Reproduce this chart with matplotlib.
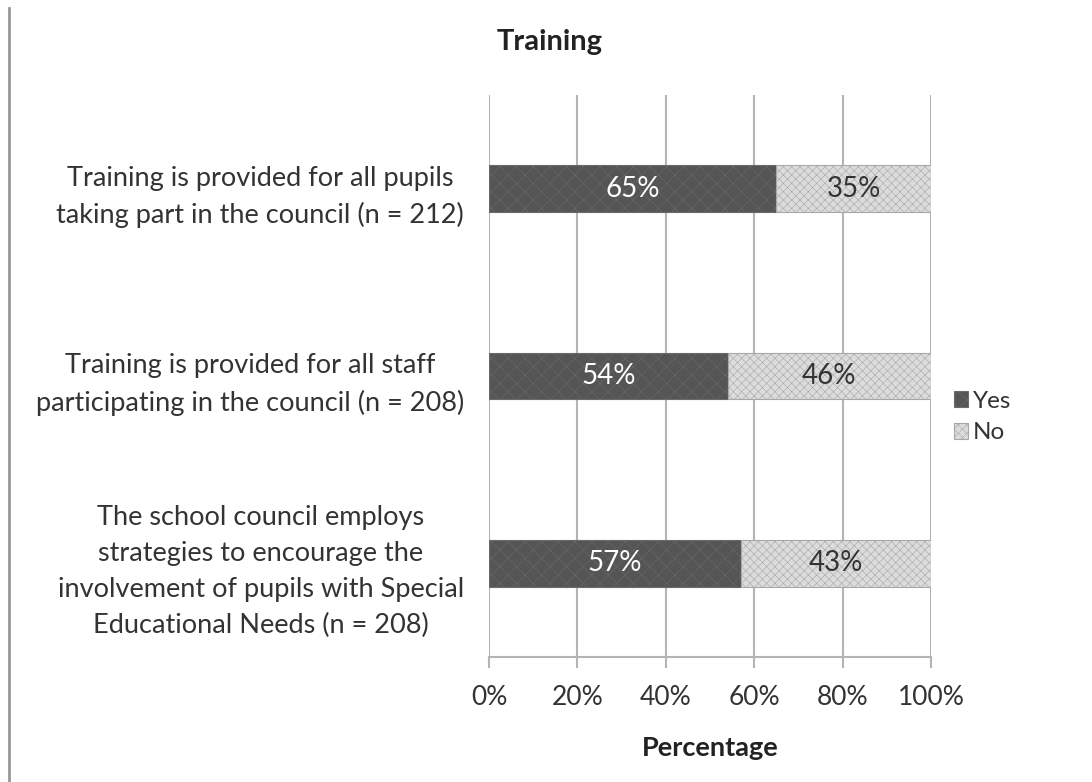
import matplotlib.pyplot as plt
from matplotlib.lines import Line2D

plt.rcParams['font.family'] = ['Lato', 'DejaVu Sans']
plt.rcParams['hatch.linewidth'] = 0.4

# Survey data (percent)
questions = [
    'Training is provided for all pupils\ntaking part in the council (n = 212)',
    'Training is provided for all staff\nparticipating in the council (n = 208)',
    'The school council employs\nstrategies to encourage the\ninvolvement of pupils with Special\nEducational Needs (n = 208)',
]
yes_vals = [65, 54, 57]
no_vals = [35, 46, 43]
ticks = [0, 20, 40, 60, 80, 100]

fig = plt.figure(figsize=(10.92, 7.82), dpi=100)
ax = fig.add_axes([0.4478, 0.160, 0.4048, 0.7185])

ypos = [2, 1, 0]
grid_col = '#b4b4b4'
ax.barh(ypos, yes_vals, height=0.25, color='#555555', edgecolor='#6a6a6a',
        hatch='xx', linewidth=0.8, label='Yes', zorder=3)
ax.barh(ypos, no_vals, left=yes_vals, height=0.25, color='#dcdcdc',
        edgecolor='#a8a8a8', hatch='xxxx', linewidth=0.8, label='No', zorder=3)

for y, yv, nv in zip(ypos, yes_vals, no_vals):
    ax.text(yv / 2, y, f'{yv}%', ha='center', va='center', color='white',
            fontsize=20, zorder=4)
    ax.text(yv + nv / 2, y, f'{nv}%', ha='center', va='center', color='#333333',
            fontsize=20, zorder=4)

ax.set_xlim(0, 100)
ax.set_ylim(-0.5, 2.5)
ax.set_xticks(ticks)
ax.set_xticklabels([f'{t}%' for t in ticks], fontsize=19, color='#333333')
ax.set_yticks(ypos)
ax.set_yticklabels(questions, fontsize=19.5, color='#333333',
                   multialignment='center', linespacing=1.55)
ax.tick_params(axis='y', length=0, pad=18)
ax.tick_params(axis='x', length=8, color=grid_col, width=1.5, pad=12)
ax.grid(axis='x', color=grid_col, linewidth=1.5, zorder=0)
for s in ['top', 'right', 'left']:
    ax.spines[s].set_visible(False)
ax.spines['bottom'].set_color(grid_col)
ax.spines['bottom'].set_linewidth(1.5)
ax.set_xlabel('Percentage', fontsize=19.5, fontweight='bold', color='#222222', labelpad=19)

fig.text(550 / 1092, 1 - 42 / 782, 'Training', ha='center', va='center',
         fontsize=21, fontweight='bold', color='#222222')

fig.legend(loc='center left', bbox_to_anchor=(944 / 1092, 1 - 417 / 782), frameon=False,
           fontsize=17.5, handlelength=0.6, handleheight=0.6, handletextpad=0.2,
           labelspacing=0.45, labelcolor='#333333', borderaxespad=0)

# left border line of the original image
fig.add_artist(Line2D([9 / 1092, 9 / 1092], [0, 0.99], color='#999999', linewidth=2))

fig.savefig('out.png', dpi=100)
